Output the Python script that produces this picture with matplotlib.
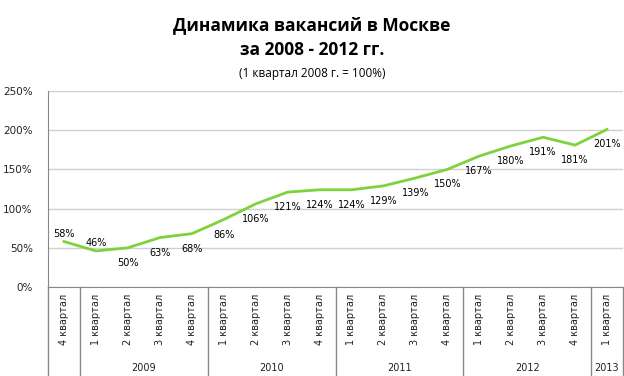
import matplotlib
matplotlib.use("Agg")
import matplotlib.pyplot as plt
from matplotlib.transforms import blended_transform_factory

quarters = ["4 квартал",
            "1 квартал", "2 квартал", "3 квартал", "4 квартал",
            "1 квартал", "2 квартал", "3 квартал", "4 квартал",
            "1 квартал", "2 квартал", "3 квартал", "4 квартал",
            "1 квартал", "2 квартал", "3 квартал", "4 квартал",
            "1 квартал"]
values = [58, 46, 50, 63, 68, 86, 106, 121, 124, 124, 129, 139, 150, 167, 180, 191, 181, 201]
years = ["2009", "2010", "2011", "2012", "2013"]
year_spans = [(1, 4), (5, 8), (9, 12), (13, 16), (17, 17)]
y_ticks = [0, 50, 100, 150, 200, 250]

fig = plt.figure(figsize=(6.24, 3.76), dpi=100)
ax = fig.add_axes([48 / 624, 1 - 287 / 376, 575 / 624, 196 / 376])

x = list(range(len(values)))
ax.plot(x, values, color="#7DD33B", linewidth=2, solid_joinstyle="miter")

# data labels: first two above the line, the rest below
for i, v in enumerate(values):
    dy = 8 if i < 2 else -15
    ax.annotate(f"{v}%", (i, v), xytext=(0, dy), textcoords="offset pixels",
                ha="center", va="center", fontsize=7, family="DejaVu Sans", color="black")

ax.set_xlim(-0.5, len(values) - 0.5)
ax.set_ylim(0, 250)
ax.set_yticks(y_ticks)
ax.set_yticklabels([f"{t}%" for t in y_ticks], fontsize=7.5, color="#222222")
ax.tick_params(axis="y", length=0, pad=11)
ax.set_xticks([])
ax.yaxis.grid(True, color="#D0D0D0", linewidth=1)
ax.set_axisbelow(True)
for s in ["top", "right"]:
    ax.spines[s].set_visible(False)
ax.spines["left"].set_color("#888888")
ax.spines["bottom"].set_color("#888888")

# category axis: quarters, years and separators
tr = blended_transform_factory(ax.transData, fig.transFigure)
bottom_y = 1 - 287 / 376
for b in [-0.5, 0.5, 4.5, 8.5, 12.5, 16.5, 17.5]:
    fig.add_artist(plt.Line2D([b, b], [0, bottom_y], transform=tr, color="#888888", linewidth=1))
for i, q in enumerate(quarters):
    fig.text(i, 1 - 294 / 376, q, transform=tr, rotation=90, ha="center", va="top",
             fontsize=7, family="DejaVu Sans", color="#222222")
for yr, (a, b) in zip(years, year_spans):
    fig.text((a + b) / 2, 1 - 368 / 376, yr, transform=tr, ha="center", va="center",
             fontsize=7, family="DejaVu Sans", color="#222222")

fig.text(0.5, 1 - 25 / 376, "Динамика вакансий в Москве", ha="center", va="center",
         fontsize=12.5, fontweight="bold", family="Open Sans")
fig.text(0.5, 1 - 50 / 376, "за 2008 - 2012 гг.", ha="center", va="center",
         fontsize=12.5, fontweight="bold", family="Open Sans")
fig.text(0.5, 1 - 73 / 376, "(1 квартал 2008 г. = 100%)", ha="center", va="center",
         fontsize=8.5, family="Open Sans")

fig.savefig("out.png", dpi=100)
